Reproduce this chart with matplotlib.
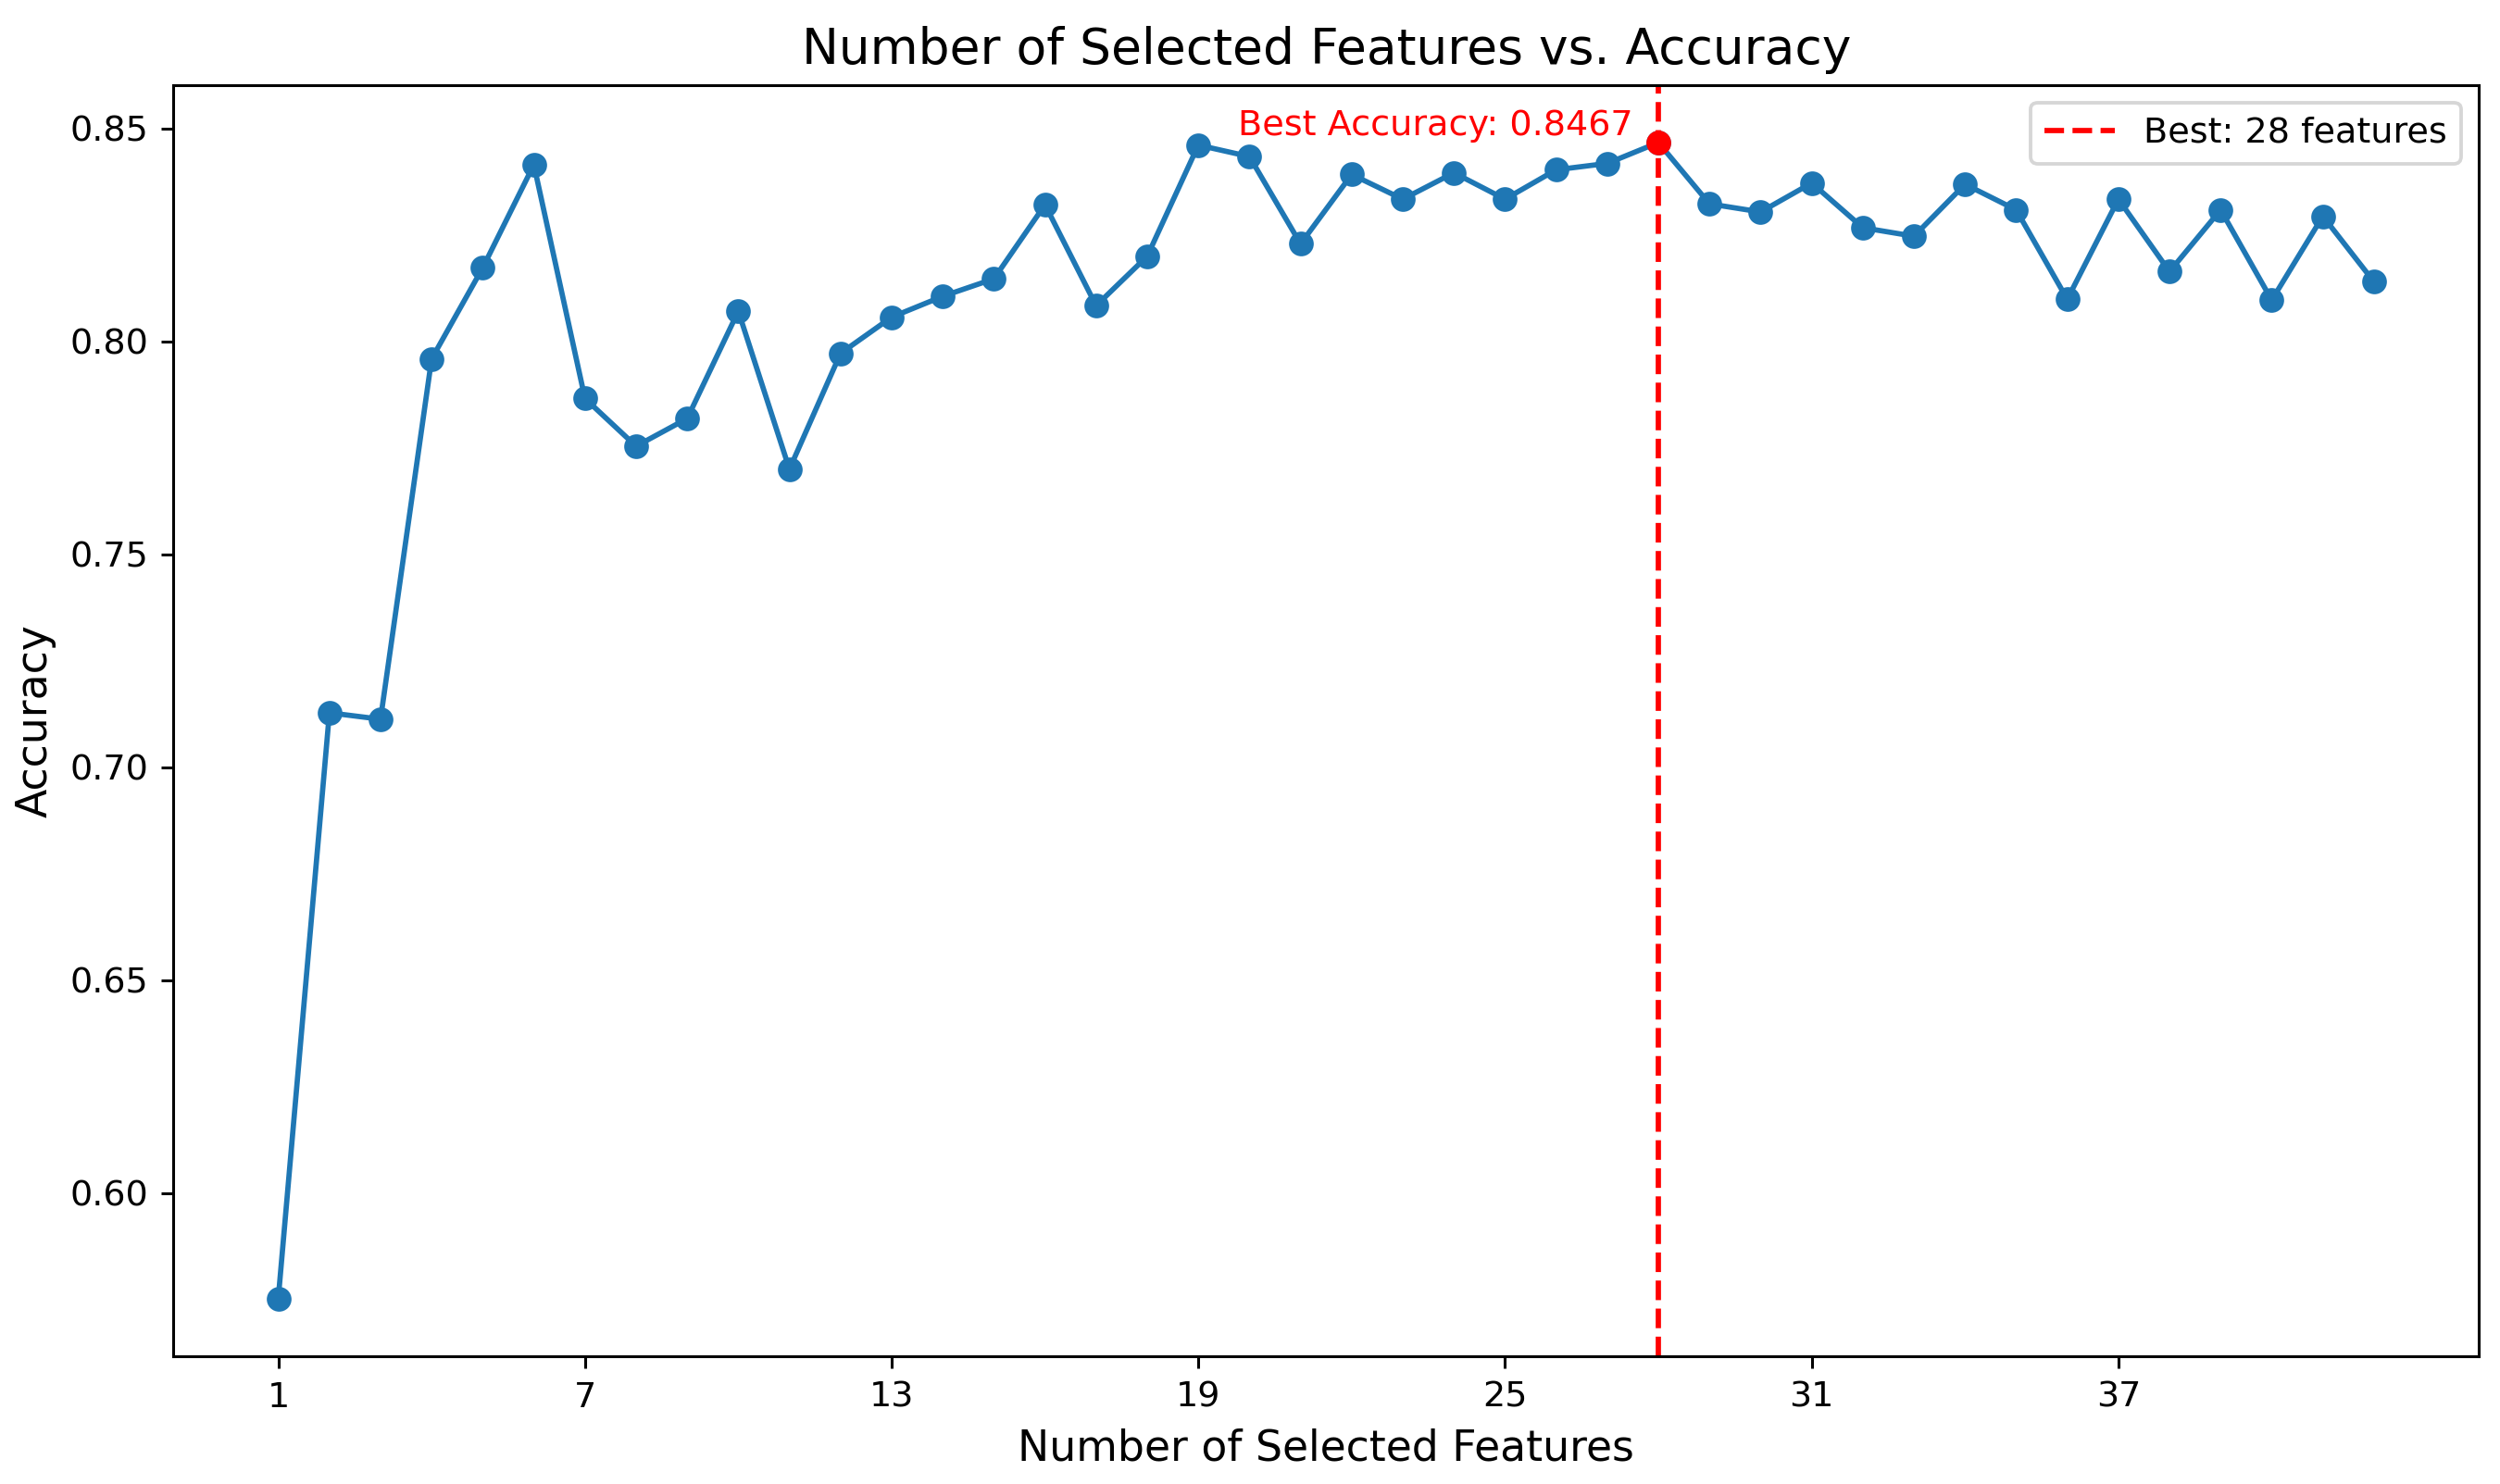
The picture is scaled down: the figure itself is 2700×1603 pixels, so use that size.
import numpy as np
import matplotlib
matplotlib.use('Agg')
import matplotlib.pyplot as plt

# accuracy for each number of selected features
n_features = list(range(1, 43))
accuracy = [0.5753, 0.7128, 0.7113, 0.7959, 0.8173, 0.8415, 0.7866, 0.7754,
            0.7819, 0.8071, 0.7700, 0.7972, 0.8057, 0.8106, 0.8147, 0.8321,
            0.8084, 0.8200, 0.8461, 0.8434, 0.8229, 0.8392, 0.8334, 0.8396,
            0.8334, 0.8403, 0.8418, 0.8467, 0.8323, 0.8304, 0.8372, 0.8267,
            0.8247, 0.8369, 0.8309, 0.8099, 0.8334, 0.8164, 0.8309, 0.8097,
            0.8294, 0.8140]
tick_positions = list(range(1, 43, 6))

best_idx = int(np.argmax(accuracy))
best_k = n_features[best_idx]
best_acc = accuracy[best_idx]

DPI = 274.5
fig = plt.figure(figsize=(2700 / DPI, 1603 / DPI), dpi=DPI)
plt.plot(n_features, accuracy, marker='o', color='#1f77b4')
plt.axvline(x=best_k, color='r', linestyle='--', label=f'Best: {best_k} features')
plt.plot(best_k, best_acc, 'ro')
plt.text(best_k - 0.5, best_acc, f'Best Accuracy: {best_acc:.4f}',
         color='red', ha='right', va='bottom', fontsize=10)
plt.title('Number of Selected Features vs. Accuracy', fontsize=14)
plt.xlabel('Number of Selected Features', fontsize=12)
plt.ylabel('Accuracy', fontsize=12)
plt.xticks(tick_positions)
plt.legend(loc='upper right', fontsize=10)
plt.subplots_adjust(left=0.0694, right=0.9915, top=0.9429, bottom=0.0861)
plt.savefig('out.png', dpi=DPI)
print("Saved out.png")
